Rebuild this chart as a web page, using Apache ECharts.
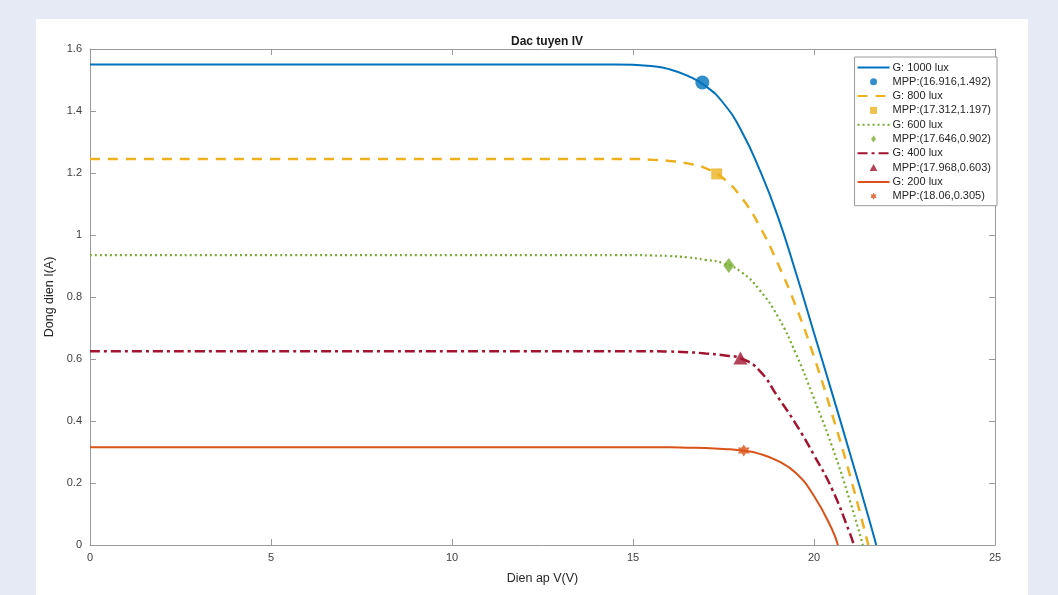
<!DOCTYPE html>
<html>
<head>
<meta charset="utf-8">
<script src="https://cdn.jsdelivr.net/npm/echarts@6/dist/echarts.min.js"></script>
<style>
html,body{margin:0;padding:0;background:#e6eaf5;}
#wrap{position:relative;width:1058px;height:595px;background:#e6eaf5;overflow:hidden;}
#panel{position:absolute;left:36px;top:19px;width:992px;height:576px;background:#ffffff;}
#chart{position:absolute;left:0;top:0;width:1058px;height:595px;}
</style>
</head>
<body>
<div id="wrap"><div id="panel"></div><div id="chart"></div></div>
<script>
// ---- Data ----
const titleText = 'Dac tuyen IV';
const xLabel = 'Dien ap V(V)';
const yLabel = 'Dong dien I(A)';

const curveNames = ['G: 1000 lux', 'G: 800 lux', 'G: 600 lux', 'G: 400 lux', 'G: 200 lux'];
const mppNames = ['MPP:(16.916,1.492)', 'MPP:(17.312,1.197)', 'MPP:(17.646,0.902)', 'MPP:(17.968,0.603)', 'MPP:(18.06,0.305)'];

const v1000 = [0, 5, 10, 13, 14, 14.5, 15, 15.5, 16, 16.5, 17, 17.5, 18, 18.5, 19, 19.5, 20, 20.5, 21, 21.5, 21.72];
const i1000 = [1.55, 1.55, 1.55, 1.55, 1.55, 1.55, 1.549, 1.545, 1.535, 1.514, 1.481, 1.425, 1.335, 1.21, 1.06, 0.878, 0.684, 0.49, 0.293, 0.092, 0];

const v800 = [0, 5, 10, 13, 14, 14.5, 15, 15.5, 16, 16.5, 17, 17.5, 18, 18.5, 19, 19.5, 20, 20.5, 21, 21.5];
const i800 = [1.245, 1.245, 1.245, 1.245, 1.245, 1.245, 1.245, 1.243, 1.239, 1.231, 1.216, 1.182, 1.12, 1.028, 0.908, 0.77, 0.607, 0.422, 0.222, 0];

const v600 = [0, 5, 10, 13, 14, 14.5, 15, 15.5, 16, 16.5, 17, 17.5, 18, 18.5, 19, 19.5, 20, 20.5, 21, 21.35];
const i600 = [0.935, 0.935, 0.935, 0.935, 0.935, 0.935, 0.935, 0.934, 0.932, 0.928, 0.92, 0.909, 0.88, 0.822, 0.737, 0.617, 0.472, 0.318, 0.14, 0];

const v400 = [0, 5, 10, 13, 14, 14.5, 15, 15.5, 16, 16.5, 17, 17.5, 18, 18.5, 19, 19.5, 20, 20.5, 21, 21.1];
const i400 = [0.625, 0.625, 0.625, 0.625, 0.625, 0.625, 0.625, 0.625, 0.624, 0.622, 0.618, 0.612, 0.601, 0.562, 0.478, 0.39, 0.29, 0.18, 0.035, 0];

const v200 = [0, 5, 10, 13, 14, 14.5, 15, 15.5, 16, 16.5, 17, 17.5, 18, 18.5, 19, 19.5, 20, 20.5, 20.66];
const i200 = [0.315, 0.315, 0.315, 0.315, 0.315, 0.315, 0.315, 0.315, 0.315, 0.314, 0.313, 0.31, 0.305, 0.294, 0.271, 0.232, 0.158, 0.05, 0];

const mppV = [16.916, 17.312, 17.646, 17.968, 18.06];
const mppI = [1.492, 1.197, 0.902, 0.603, 0.305];

// ---- Styling ----
const colors = ['#0072BD', '#EDB120', '#77AC30', '#A2142F', '#D95319'];
const dashes = ['solid', [10, 8], [2, 3], [10, 4, 3, 4], 'solid'];
const widths = [2, 2.5, 2.2, 2.5, 2];
const hexagram = 'path://M0,-10L2.887,-5L8.66,-5L5.774,0L8.66,5L2.887,5L0,10L-2.887,5L-8.66,5L-5.774,0L-8.66,-5L-2.887,-5Z';
const squarePath = 'path://M0,0L10,0L10,10L0,10Z';
const diamondPath = 'path://M5,0L10,7L5,14L0,7Z';
const trianglePath = 'path://M5,0L10,9L0,9Z';
const mppSymbols = ['circle', squarePath, diamondPath, trianglePath, hexagram];
const mppSizes = [14, 11, [11, 15], [14, 13], 12];

const vs = [v1000, v800, v600, v400, v200];
const is = [i1000, i800, i600, i400, i200];

function pairs(xs, ys) { return xs.map((x, k) => [x, ys[k]]); }

const series = [];
for (let k = 0; k < 5; k++) {
  series.push({
    name: curveNames[k], type: 'line', data: pairs(vs[k], is[k]),
    symbol: 'circle', showSymbol: false, smooth: 0.5,
    lineStyle: { color: colors[k], width: widths[k], type: dashes[k] },
    itemStyle: { color: 'rgba(0,0,0,0)', borderWidth: 0 }, z: 2, silent: true
  });
  series.push({
    name: mppNames[k], type: 'scatter', data: [[mppV[k], mppI[k]]],
    symbol: mppSymbols[k], symbolSize: mppSizes[k], symbolKeepAspect: false,
    itemStyle: { color: colors[k] }, z: 3, silent: true
  });
}

const axisLineStyle = { color: '#9a9a9a', width: 1 };
const labelStyle = { color: '#404040', fontSize: 11, fontFamily: 'Liberation Sans, Arial, sans-serif' };

const option = {
  animation: false,
  textStyle: { fontFamily: 'Liberation Sans, Arial, sans-serif' },
  title: {
    text: titleText, left: 542, top: 31, textAlign: 'center',
    textStyle: { fontSize: 12, fontWeight: 'bold', color: '#1a1a1a' }
  },
  grid: { left: 90, right: 63, top: 49, bottom: 50, containLabel: false },
  legend: {
    orient: 'vertical', right: 61, top: 57,
    data: curveNames.flatMap((n, k) => [n, mppNames[k]]),
    itemWidth: 32, itemHeight: 7, itemGap: 1.3,
    symbolKeepAspect: true,
    padding: [4, 6, 3, 2],
    backgroundColor: '#ffffff', borderColor: '#9a9a9a', borderWidth: 1, borderRadius: 0,
    textStyle: { fontSize: 11, color: '#262626', lineHeight: 13, padding: [0, 0, 0, -2] },
    selectedMode: false
  },
  xAxis: [{
    type: 'value', min: 0, max: 25, interval: 5,
    name: xLabel, nameLocation: 'middle', nameGap: 27,
    nameTextStyle: { fontSize: 12.5, color: '#262626' },
    axisLine: { show: true, onZero: false, lineStyle: axisLineStyle },
    axisTick: { show: true, inside: true, length: 6, lineStyle: axisLineStyle },
    axisLabel: Object.assign({ margin: 7 }, labelStyle),
    splitLine: { show: false }
  }, {
    type: 'value', min: 0, max: 25, interval: 5, position: 'top',
    axisLine: { show: true, onZero: false, lineStyle: axisLineStyle },
    axisTick: { show: true, inside: true, length: 6, lineStyle: axisLineStyle },
    axisLabel: { show: false }, splitLine: { show: false }
  }],
  yAxis: [{
    type: 'value', min: 0, max: 1.6, interval: 0.2,
    name: yLabel, nameLocation: 'middle', nameGap: 21, nameRotate: 90,
    nameTextStyle: { fontSize: 12.5, color: '#262626' },
    axisLine: { show: true, onZero: false, lineStyle: axisLineStyle },
    axisTick: { show: true, inside: true, length: 6, lineStyle: axisLineStyle },
    axisLabel: Object.assign({ margin: 8, formatter: v => String(Math.round(v * 10) / 10) }, labelStyle),
    splitLine: { show: false }
  }, {
    type: 'value', min: 0, max: 1.6, interval: 0.2, position: 'right',
    axisLine: { show: true, onZero: false, lineStyle: axisLineStyle },
    axisTick: { show: true, inside: true, length: 6, lineStyle: axisLineStyle },
    axisLabel: { show: false }, splitLine: { show: false }
  }],
  series: series
};

const chart = echarts.init(document.getElementById('chart'), null, { renderer: 'canvas' });
chart.setOption(option);
</script>
</body>
</html>
